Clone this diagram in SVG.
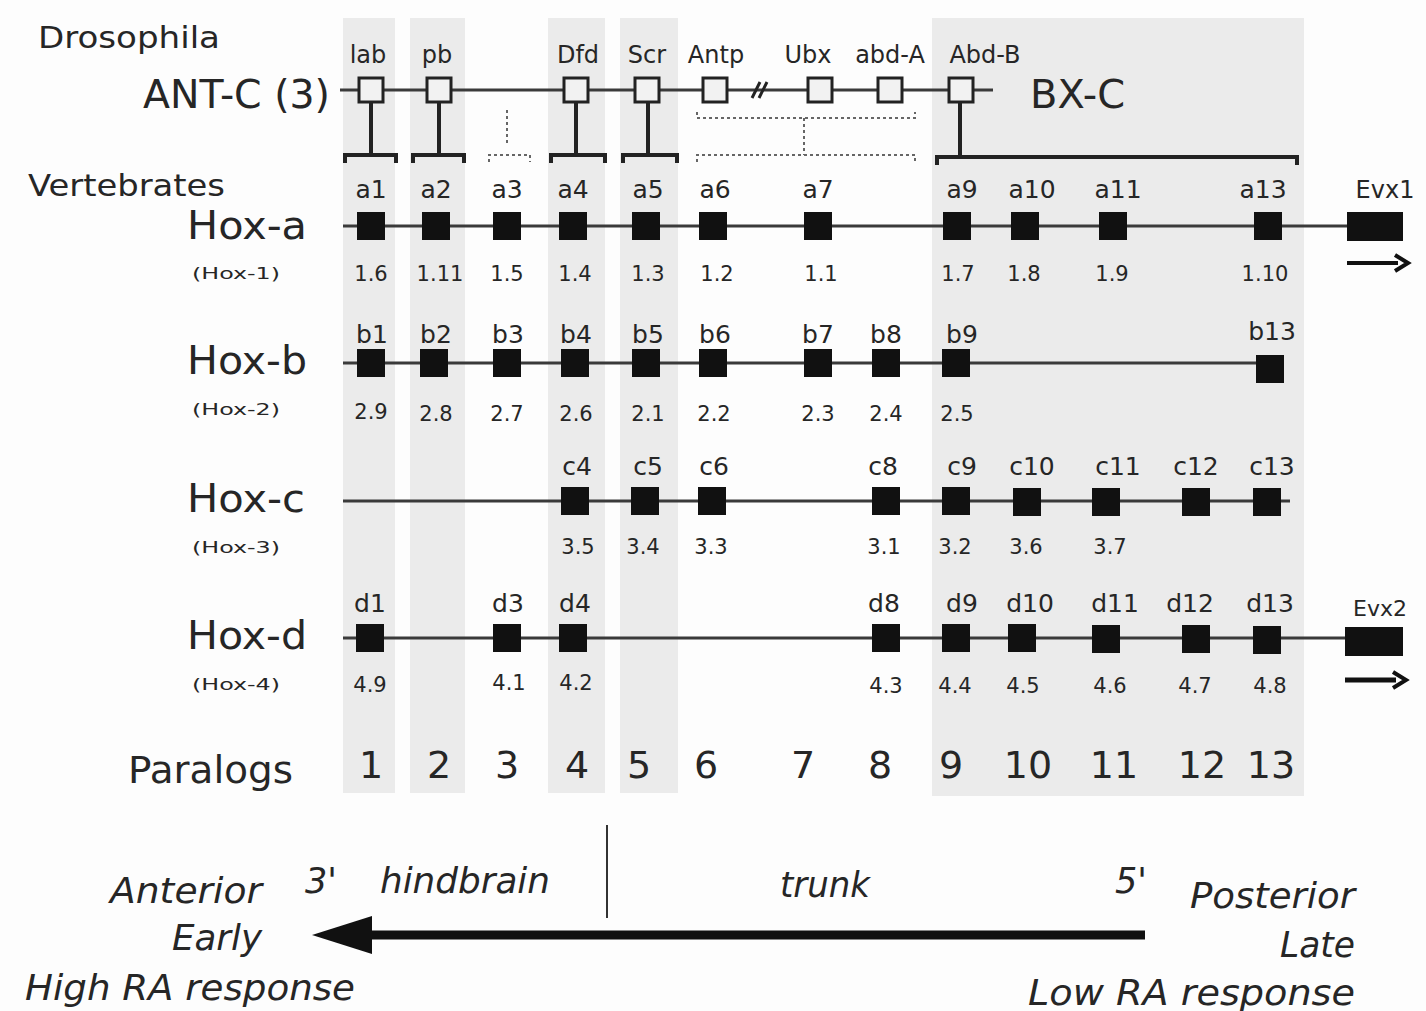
<svg xmlns="http://www.w3.org/2000/svg" width="1426" height="1011" viewBox="0 0 1426 1011">
<style>
text{font-family:"DejaVu Sans","Liberation Sans",Arial,sans-serif;fill:#262626}
.lbl{font-size:25px;text-anchor:middle}
.dl{font-size:24px;text-anchor:middle}
.num{font-size:21px;text-anchor:middle}
.big{font-size:39px}
.sm{font-size:16px}
.par{font-size:38px;text-anchor:middle}
.it{font-size:35px;font-style:italic}
.hol{fill:#f2f2f2;stroke:#222;stroke-width:3}
.blk{fill:#111}
.ln{stroke:#3a3a3a;stroke-width:3;fill:none}
.br{stroke:#222;stroke-width:4;fill:none}
.dot{stroke:#666;stroke-width:2;stroke-dasharray:3 3;fill:none}
.shade{fill:#ebebeb}
</style>
<rect width="1426" height="1011" fill="#fdfdfd"/>
<g id="shading">
<rect class="shade" x="343" y="18" width="52" height="775"/>
<rect class="shade" x="410" y="18" width="55" height="775"/>
<rect class="shade" x="548" y="18" width="57" height="775"/>
<rect class="shade" x="620" y="18" width="58" height="775"/>
<rect class="shade" x="932" y="18" width="372" height="778"/>
</g>
<g id="titles">
<text x="38" y="48" style="font-size:31px" textLength="182" lengthAdjust="spacingAndGlyphs">Drosophila</text>
<text x="143" y="108" class="big" textLength="187" lengthAdjust="spacingAndGlyphs">ANT-C (3)</text>
<text x="1030" y="108" class="big" textLength="95" lengthAdjust="spacingAndGlyphs">BX-C</text>
<text x="28" y="196" style="font-size:31px" textLength="197" lengthAdjust="spacingAndGlyphs">Vertebrates</text>
<text x="187" y="239" class="big" textLength="120" lengthAdjust="spacingAndGlyphs">Hox-a</text>
<text x="192" y="279" class="sm" textLength="88" lengthAdjust="spacingAndGlyphs">(Hox-1)</text>
<text x="187" y="374" class="big" textLength="120" lengthAdjust="spacingAndGlyphs">Hox-b</text>
<text x="192" y="415" class="sm" textLength="88" lengthAdjust="spacingAndGlyphs">(Hox-2)</text>
<text x="187" y="512" class="big" textLength="118" lengthAdjust="spacingAndGlyphs">Hox-c</text>
<text x="192" y="553" class="sm" textLength="88" lengthAdjust="spacingAndGlyphs">(Hox-3)</text>
<text x="187" y="649" class="big" textLength="120" lengthAdjust="spacingAndGlyphs">Hox-d</text>
<text x="192" y="690" class="sm" textLength="88" lengthAdjust="spacingAndGlyphs">(Hox-4)</text>
<text x="128" y="783" style="font-size:37px" textLength="165" lengthAdjust="spacingAndGlyphs">Paralogs</text>
</g>
<g id="connectors">
<line class="ln" x1="340" y1="90" x2="993" y2="90"/>
<line x1="752" y1="98" x2="760" y2="82" stroke="#222" stroke-width="3"/>
<line x1="759" y1="98" x2="767" y2="82" stroke="#222" stroke-width="3"/>
<line class="br" x1="371" y1="102" x2="371" y2="155"/>
<line class="br" x1="439" y1="102" x2="439" y2="155"/>
<line class="br" x1="576" y1="102" x2="576" y2="155"/>
<line class="br" x1="648" y1="102" x2="648" y2="155"/>
<line class="br" x1="960" y1="102" x2="960" y2="155"/>
<path class="br" d="M345,163 V155 H396 V163"/>
<path class="br" d="M413,163 V155 H464 V163"/>
<path class="br" d="M551,163 V155 H605 V163"/>
<path class="br" d="M623,163 V155 H677 V163"/>
<path class="br" d="M937,165 V157 H1297 V165"/>
<path class="dot" d="M489,162 V155 H530 V162"/>
<line class="dot" x1="507" y1="110" x2="507" y2="145"/>
<path class="dot" d="M697,112 V118 H915 V112"/>
<line class="dot" x1="804" y1="118" x2="804" y2="155"/>
<path class="dot" d="M697,162 V155 H915 V162"/>
<line class="ln" x1="343" y1="226" x2="1350" y2="226"/>
<line class="ln" x1="343" y1="363" x2="1270" y2="363"/>
<line class="ln" x1="343" y1="501" x2="1290" y2="501"/>
<line class="ln" x1="343" y1="638" x2="1348" y2="638"/>
<line x1="1347" y1="263" x2="1398" y2="263" stroke="#111" stroke-width="4"/>
<path d="M1395,255 L1408,263 L1395,271" fill="none" stroke="#111" stroke-width="4"/>
<line x1="1345" y1="680" x2="1396" y2="680" stroke="#111" stroke-width="5"/>
<path d="M1393,672 L1406,680 L1393,688" fill="none" stroke="#111" stroke-width="4"/>
</g>
<g id="drosophila-genes">
<rect class="hol" x="359" y="78" width="24" height="24"/>
<rect class="hol" x="427" y="78" width="24" height="24"/>
<rect class="hol" x="564" y="78" width="24" height="24"/>
<rect class="hol" x="635" y="78" width="24" height="24"/>
<rect class="hol" x="703" y="78" width="24" height="24"/>
<rect class="hol" x="808" y="78" width="24" height="24"/>
<rect class="hol" x="878" y="78" width="24" height="24"/>
<rect class="hol" x="949" y="78" width="24" height="24"/>
<text class="dl" x="368" y="63">lab</text>
<text class="dl" x="437" y="63">pb</text>
<text class="dl" x="578" y="63">Dfd</text>
<text class="dl" x="647" y="63">Scr</text>
<text class="dl" x="716" y="63">Antp</text>
<text class="dl" x="808" y="63">Ubx</text>
<text class="dl" x="890" y="63">abd-A</text>
<text class="dl" x="985" y="63">Abd-B</text>
</g>
<g id="hox-a">
<rect class="blk" x="357" y="212" width="28" height="28"/>
<rect class="blk" x="422" y="212" width="28" height="28"/>
<rect class="blk" x="493" y="212" width="28" height="28"/>
<rect class="blk" x="559" y="212" width="28" height="28"/>
<rect class="blk" x="632" y="212" width="28" height="28"/>
<rect class="blk" x="699" y="212" width="28" height="28"/>
<rect class="blk" x="804" y="212" width="28" height="28"/>
<rect class="blk" x="943" y="212" width="28" height="28"/>
<rect class="blk" x="1011" y="212" width="28" height="28"/>
<rect class="blk" x="1099" y="212" width="28" height="28"/>
<rect class="blk" x="1254" y="212" width="28" height="28"/>
<rect class="blk" x="1347" y="212" width="56" height="29"/>
<text class="lbl" x="371" y="198">a1</text>
<text class="lbl" x="436" y="198">a2</text>
<text class="lbl" x="507" y="198">a3</text>
<text class="lbl" x="573" y="198">a4</text>
<text class="lbl" x="648" y="198">a5</text>
<text class="lbl" x="715" y="198">a6</text>
<text class="lbl" x="818" y="198">a7</text>
<text class="lbl" x="962" y="198">a9</text>
<text class="lbl" x="1032" y="198">a10</text>
<text class="lbl" x="1118" y="198">a11</text>
<text class="lbl" x="1263" y="198">a13</text>
<text class="dl" x="1385" y="198">Evx1</text>
<text class="num" x="371" y="281">1.6</text>
<text class="num" x="440" y="281">1.11</text>
<text class="num" x="507" y="281">1.5</text>
<text class="num" x="575" y="281">1.4</text>
<text class="num" x="648" y="281">1.3</text>
<text class="num" x="717" y="281">1.2</text>
<text class="num" x="821" y="281">1.1</text>
<text class="num" x="958" y="281">1.7</text>
<text class="num" x="1024" y="281">1.8</text>
<text class="num" x="1112" y="281">1.9</text>
<text class="num" x="1265" y="281">1.10</text>
</g>
<g id="hox-b">
<rect class="blk" x="357" y="349" width="28" height="28"/>
<rect class="blk" x="420" y="349" width="28" height="28"/>
<rect class="blk" x="493" y="349" width="28" height="28"/>
<rect class="blk" x="561" y="349" width="28" height="28"/>
<rect class="blk" x="632" y="349" width="28" height="28"/>
<rect class="blk" x="699" y="349" width="28" height="28"/>
<rect class="blk" x="804" y="349" width="28" height="28"/>
<rect class="blk" x="872" y="349" width="28" height="28"/>
<rect class="blk" x="942" y="349" width="28" height="28"/>
<rect class="blk" x="1256" y="355" width="28" height="28"/>
<text class="lbl" x="372" y="343">b1</text>
<text class="lbl" x="436" y="343">b2</text>
<text class="lbl" x="508" y="343">b3</text>
<text class="lbl" x="576" y="343">b4</text>
<text class="lbl" x="648" y="343">b5</text>
<text class="lbl" x="715" y="343">b6</text>
<text class="lbl" x="818" y="343">b7</text>
<text class="lbl" x="886" y="343">b8</text>
<text class="lbl" x="962" y="343">b9</text>
<text class="lbl" x="1272" y="340">b13</text>
<text class="num" x="371" y="419">2.9</text>
<text class="num" x="436" y="421">2.8</text>
<text class="num" x="507" y="421">2.7</text>
<text class="num" x="576" y="421">2.6</text>
<text class="num" x="648" y="421">2.1</text>
<text class="num" x="714" y="421">2.2</text>
<text class="num" x="818" y="421">2.3</text>
<text class="num" x="886" y="421">2.4</text>
<text class="num" x="957" y="421">2.5</text>
</g>
<g id="hox-c">
<rect class="blk" x="561" y="487" width="28" height="28"/>
<rect class="blk" x="631" y="487" width="28" height="28"/>
<rect class="blk" x="698" y="487" width="28" height="28"/>
<rect class="blk" x="872" y="487" width="28" height="28"/>
<rect class="blk" x="942" y="487" width="28" height="28"/>
<rect class="blk" x="1013" y="488" width="28" height="28"/>
<rect class="blk" x="1092" y="488" width="28" height="28"/>
<rect class="blk" x="1182" y="488" width="28" height="28"/>
<rect class="blk" x="1253" y="488" width="28" height="28"/>
<text class="lbl" x="577" y="475">c4</text>
<text class="lbl" x="648" y="475">c5</text>
<text class="lbl" x="714" y="475">c6</text>
<text class="lbl" x="883" y="475">c8</text>
<text class="lbl" x="962" y="475">c9</text>
<text class="lbl" x="1032" y="475">c10</text>
<text class="lbl" x="1118" y="475">c11</text>
<text class="lbl" x="1196" y="475">c12</text>
<text class="lbl" x="1272" y="475">c13</text>
<text class="num" x="578" y="554">3.5</text>
<text class="num" x="643" y="554">3.4</text>
<text class="num" x="711" y="554">3.3</text>
<text class="num" x="884" y="554">3.1</text>
<text class="num" x="955" y="554">3.2</text>
<text class="num" x="1026" y="554">3.6</text>
<text class="num" x="1110" y="554">3.7</text>
</g>
<g id="hox-d">
<rect class="blk" x="356" y="624" width="28" height="28"/>
<rect class="blk" x="493" y="624" width="28" height="28"/>
<rect class="blk" x="559" y="624" width="28" height="28"/>
<rect class="blk" x="872" y="624" width="28" height="28"/>
<rect class="blk" x="942" y="624" width="28" height="28"/>
<rect class="blk" x="1008" y="624" width="28" height="28"/>
<rect class="blk" x="1092" y="625" width="28" height="28"/>
<rect class="blk" x="1182" y="625" width="28" height="28"/>
<rect class="blk" x="1253" y="626" width="28" height="28"/>
<rect class="blk" x="1345" y="627" width="58" height="29"/>
<text class="lbl" x="370" y="612">d1</text>
<text class="lbl" x="508" y="612">d3</text>
<text class="lbl" x="575" y="612">d4</text>
<text class="lbl" x="884" y="612">d8</text>
<text class="lbl" x="962" y="612">d9</text>
<text class="lbl" x="1030" y="612">d10</text>
<text class="lbl" x="1115" y="612">d11</text>
<text class="lbl" x="1190" y="612">d12</text>
<text class="lbl" x="1270" y="612">d13</text>
<text class="dl" x="1380" y="616" style="font-size:22px">Evx2</text>
<text class="num" x="370" y="692">4.9</text>
<text class="num" x="509" y="690">4.1</text>
<text class="num" x="576" y="690">4.2</text>
<text class="num" x="886" y="693">4.3</text>
<text class="num" x="955" y="693">4.4</text>
<text class="num" x="1023" y="693">4.5</text>
<text class="num" x="1110" y="693">4.6</text>
<text class="num" x="1195" y="693">4.7</text>
<text class="num" x="1270" y="693">4.8</text>
</g>
<g id="paralogs">
<text class="par" x="371" y="778">1</text>
<text class="par" x="439" y="778">2</text>
<text class="par" x="507" y="778">3</text>
<text class="par" x="577" y="778">4</text>
<text class="par" x="639" y="778">5</text>
<text class="par" x="706" y="778">6</text>
<text class="par" x="803" y="778">7</text>
<text class="par" x="880" y="778">8</text>
<text class="par" x="951" y="778">9</text>
<text class="par" x="1028" y="778">10</text>
<text class="par" x="1114" y="778">11</text>
<text class="par" x="1202" y="778">12</text>
<text class="par" x="1271" y="778">13</text>
</g>
<g id="axis">
<line x1="607" y1="825" x2="607" y2="918" stroke="#333" stroke-width="2"/>
<line x1="1145" y1="935" x2="365" y2="935" stroke="#111" stroke-width="9"/>
<polygon points="312,935 372,916 372,954" fill="#111"/>
<text class="it" x="305" y="893">3'</text>
<text class="it" x="380" y="893" textLength="170" lengthAdjust="spacingAndGlyphs">hindbrain</text>
<text class="it" x="780" y="897" textLength="90" lengthAdjust="spacingAndGlyphs">trunk</text>
<text class="it" x="1115" y="893">5'</text>
<text class="it" x="110" y="903" textLength="152" lengthAdjust="spacingAndGlyphs">Anterior</text>
<text class="it" x="172" y="950" textLength="90" lengthAdjust="spacingAndGlyphs">Early</text>
<text class="it" x="25" y="1000" textLength="330" lengthAdjust="spacingAndGlyphs">High RA response</text>
<text class="it" x="1190" y="908" textLength="165" lengthAdjust="spacingAndGlyphs">Posterior</text>
<text class="it" x="1280" y="957" textLength="75" lengthAdjust="spacingAndGlyphs">Late</text>
<text class="it" x="1028" y="1005" textLength="327" lengthAdjust="spacingAndGlyphs">Low RA response</text>
</g>
</svg>
